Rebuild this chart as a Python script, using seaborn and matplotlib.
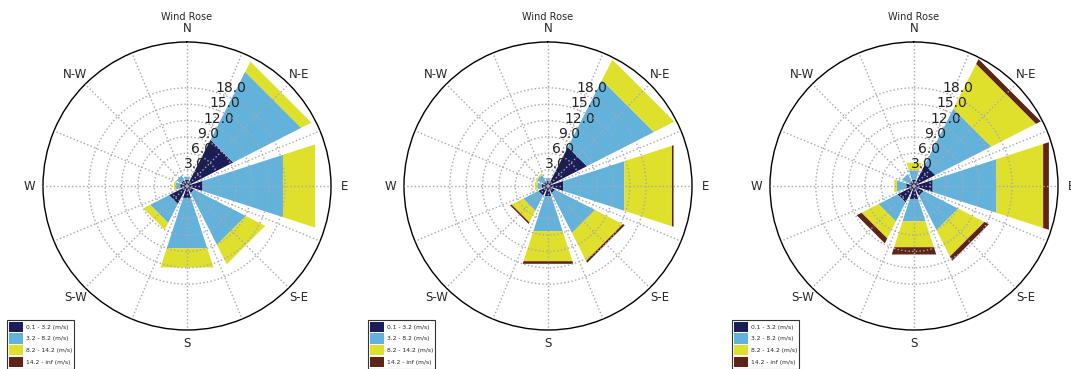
import numpy as np
import matplotlib
matplotlib.use('Agg')
import matplotlib.pyplot as plt
import matplotlib.transforms as mtransforms
import seaborn as sns

# wind directions (8 sectors) and speed classes
directions = ['N', 'N-E', 'E', 'S-E', 'S', 'S-W', 'W', 'N-W']
dir_angles = [0, 45, 90, 135, 180, 225, 270, 315]
speed_bins = ['0.1 - 3.2 (m/s)', '3.2 - 8.2 (m/s)', '8.2 - 14.2 (m/s)', '14.2 - inf (m/s)']
bin_colors = ['#1b1d58', '#62b2dc', '#dfe02c', '#5e2418']
radii = [3, 6, 9, 12, 15, 18]

# frequency per speed class, order N .. N-W
rose1_b1 = [1.2, 9.5, 3.0, 1.5, 2.3, 3.7, 1.3, 1.2]
rose1_b2 = [0.6, 14.0, 15.5, 10.6, 9.7, 3.9, 0.8, 1.0]
rose1_b3 = [0.0, 2.1, 6.2, 4.0, 3.7, 1.4, 0.4, 0.0]
rose1_b4 = [0.0, 0.0, 0.0, 0.0, 0.0, 0.0, 0.0, 0.0]

rose2_b1 = [1.0, 8.0, 2.9, 1.5, 2.0, 2.0, 1.2, 1.0]
rose2_b2 = [0.5, 13.8, 11.8, 8.2, 6.7, 3.1, 0.8, 1.3]
rose2_b3 = [0.0, 4.2, 9.2, 5.7, 5.8, 2.4, 0.5, 0.3]
rose2_b4 = [0.0, 0.0, 0.3, 0.4, 0.5, 0.3, 0.0, 0.0]

rose3_b1 = [1.2, 4.4, 3.6, 2.0, 2.5, 3.4, 1.5, 1.0]
rose3_b2 = [1.8, 11.5, 12.3, 7.1, 4.3, 3.9, 1.8, 1.5]
rose3_b3 = [1.5, 9.2, 9.0, 5.4, 5.0, 3.5, 0.5, 0.0]
rose3_b4 = [0.0, 1.0, 1.1, 0.9, 1.4, 1.0, 0.0, 0.0]

roses = [
    [rose1_b1, rose1_b2, rose1_b3, rose1_b4],
    [rose2_b1, rose2_b2, rose2_b3, rose2_b4],
    [rose3_b1, rose3_b2, rose3_b3, rose3_b4],
]

sns.set_theme(style='white')
plt.rcParams['font.family'] = ['DejaVu Sans']

W, H = 1071, 369
fig = plt.figure(figsize=(W / 100, H / 100), dpi=100)

centers = [187, 548, 914]
legend_x = [7, 368, 732]
R = 144  # px radius of each rose

theta = np.radians(dir_angles)
theta_ticks = np.arange(0, 360, 22.5)
theta_labels = [directions[i // 2] if i % 2 == 0 else '' for i in range(16)]
shift = mtransforms.ScaledTranslation(-0.09, 0, fig.dpi_scale_trans)

for cx, lx, bins in zip(centers, legend_x, roses):
    ax = fig.add_axes([(cx - R) / W, (H - 186 - R) / H, 2 * R / W, 2 * R / H],
                      projection='polar')
    ax.set_theta_zero_location('N')
    ax.set_theta_direction(-1)

    bottom = np.zeros(len(directions))
    for vals, color, label in zip(bins, bin_colors, speed_bins):
        bars = ax.bar(theta, vals, width=np.radians(36), bottom=bottom,
                      color=color, label=label, linewidth=0)
        # straight outer edges like the original windrose
        for p in bars:
            p.get_path()._interpolation_steps = 1
        bottom = bottom + np.array(vals)

    ax.set_ylim(0, 26.4)
    ax.set_rgrids(radii, labels=['%.1f' % r for r in radii], angle=22.5,
                  fontsize=10, color='#222222')
    for t in ax.yaxis.get_major_ticks():
        t.label1.set_transform(t.label1.get_transform() + shift)
    ax.set_thetagrids(theta_ticks, labels=theta_labels, fontsize=8.5)
    ax.tick_params(axis='x', pad=-3)
    ax.set_axisbelow(False)
    ax.grid(True, color='#a8a8b0', linestyle=':', linewidth=1)
    ax.spines['polar'].set_color('black')
    ax.spines['polar'].set_linewidth(1)

    fig.text(cx / W, 1 - 17 / H, 'Wind Rose', ha='center', va='center', fontsize=7)

    leg = ax.legend(loc='lower left', bbox_to_anchor=(lx / W, 0.0),
                    bbox_transform=fig.transFigure, fontsize=4.3, frameon=True,
                    fancybox=False, edgecolor='black', handlelength=2.4,
                    handleheight=2.3, labelspacing=0.2, borderpad=0.35,
                    handletextpad=0.4, borderaxespad=0)
    leg.get_frame().set_linewidth(0.8)

fig.savefig('out.png', dpi=100)
